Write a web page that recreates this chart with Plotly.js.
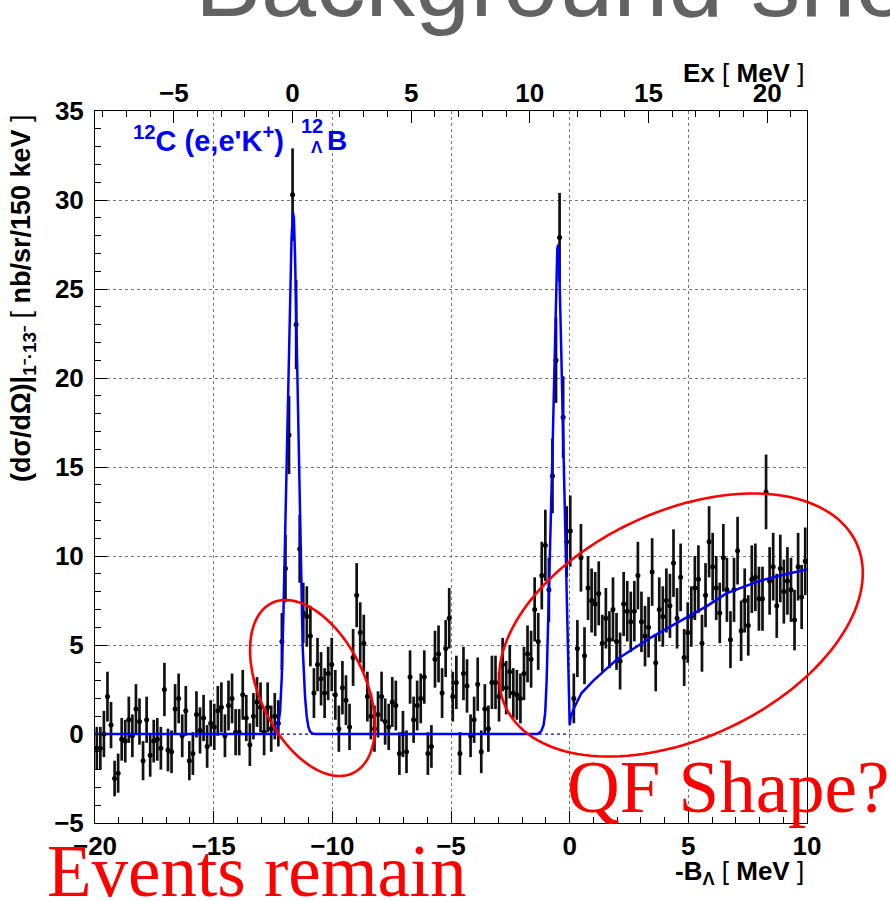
<!DOCTYPE html>
<html><head><meta charset="utf-8">
<script src="https://cdn.plot.ly/plotly-3.0.1.min.js"></script>
<style>html,body{margin:0;padding:0;background:#fff;}#chart{width:890px;height:901px;}</style>
</head><body><div id="chart"></div>
<script>
// ---- data ----
const binLow = -20;      // -B_Lambda of first bin edge [MeV]
const binWidth = 0.15;   // 150 keV bins
const counts = [
 -0.8,-0.8, 0.0, 2.1, 0.5,-2.5,-2.2,-0.3,-0.4, 0.8,
 -0.1, 1.4, 0.7,-1.5, 0.8,-1.2,-0.4,-0.3,-0.8, 2.5,
 -0.9,-1.0, 1.4, 2.0,-0.1, 1.3,-1.5,-1.1, 1.1, 0.2,
  0.9,-0.7, 0.6, 0.4, 1.3, 1.5,-0.1, 1.6, 2.0, 0.1,
  0.1, 2.2, 0.9,-0.6, 1.0, 1.8, 1.5, 0.1, 1.5, 0.3,
  1.0, 0.6, 5.2, 9.3,16.8,30.3,23.0,10.4, 6.8, 6.6,
  5.5, 2.3, 3.9, 3.1, 2.3, 3.4, 3.9, 2.2, 0.3, 2.6,
  1.9, 0.4, 4.3, 7.8, 5.7, 5.1, 2.1, 1.0, 0.3, 1.1,
  2.1, 0.7, 0.4, 1.8, 1.6,-1.1, 0.0,-1.0, 3.2, 0.8,
  1.6, 2.0, 3.2,-1.1,-0.7, 4.2, 4.5, 2.3, 4.8, 6.5,
  2.1, 2.9,-1.1, 3.4, 2.7,-0.1, 0.8, 2.8,-1.0, 1.4,
  0.3, 2.9, 2.9, 2.1, 3.9, 2.6, 3.5, 2.3, 2.2, 2.0,
  3.4, 4.5, 4.2, 7.0, 5.2, 8.9,10.6, 8.1,14.5,21.0,
 27.9,17.8,10.8,11.4, 2.0, 4.8, 9.9, 4.4, 8.2, 7.5,
  7.3, 7.9, 5.1, 6.5, 5.3, 7.0, 5.2, 4.1, 7.3, 6.9,
  6.3, 6.9, 8.9, 6.3, 5.5, 6.0, 9.1, 4.0, 7.0, 6.6,
  7.5, 7.2, 9.6, 6.5, 8.8, 4.3, 5.7, 6.6, 8.2, 8.7,
  5.1, 7.8,10.8, 9.4, 8.2, 6.8, 9.9, 8.1, 5.3, 8.1,
 10.3, 5.8, 7.5, 6.1, 8.7, 8.8, 7.6, 7.6,13.6, 8.6,
  9.4, 7.2, 9.3, 8.0, 8.6, 8.1, 6.4, 9.4, 7.7, 9.7
];
const errors = [
 1.2,1.2,1.3,1.4,1.3,1.0,1.1,1.2,1.2,1.3,
 1.2,1.4,1.3,1.1,1.3,1.2,1.2,1.2,1.2,1.5,
 1.2,1.2,1.4,1.4,1.2,1.4,1.1,1.2,1.3,1.3,
 1.3,1.2,1.3,1.3,1.4,1.4,1.2,1.4,1.4,1.3,
 1.3,1.4,1.3,1.2,1.3,1.4,1.4,1.3,1.4,1.3,
 1.3,1.3,1.6,1.9,2.2,2.6,2.5,1.9,1.7,1.7,
 1.7,1.4,1.5,1.5,1.4,1.5,1.5,1.4,1.3,1.5,
 1.4,1.3,1.6,1.8,1.7,1.6,1.4,1.3,1.3,1.3,
 1.4,1.3,1.3,1.4,1.4,1.2,1.3,1.2,1.5,1.3,
 1.4,1.4,1.5,1.2,1.2,1.6,1.6,1.4,1.6,1.7,
 1.4,1.5,1.2,1.5,1.5,1.2,1.3,1.5,1.2,1.4,
 1.3,1.5,1.5,1.4,1.5,1.5,1.5,1.4,1.4,1.4,
 1.5,1.6,1.6,1.8,1.6,1.9,2.0,1.8,2.1,2.4,
 2.5,2.3,2.0,2.0,1.4,1.6,1.9,1.6,1.8,1.8,
 1.8,1.8,1.6,1.7,1.6,1.8,1.6,1.6,1.8,1.7,
 1.7,1.7,1.9,1.7,1.7,1.7,1.9,1.6,1.8,1.7,
 1.8,1.8,1.9,1.7,1.9,1.6,1.7,1.7,1.8,1.9,
 1.6,1.8,2.0,1.9,1.8,1.7,1.9,1.8,1.6,1.8,
 1.9,1.7,1.8,1.7,1.9,1.9,1.8,1.8,2.1,1.9,
 1.9,1.8,1.9,1.8,1.9,1.8,1.7,1.9,1.8,1.9
];
// fitted curve
const fitX = [-20,-12.45,-12.34,-12.27,-12.2,-12.13,-12.06,-11.99,-11.92,-11.85,-11.78,-11.72,-11.66,-11.62,-11.57,-11.52,-11.47,-11.43,-11.39,-11.33,-11.25,-11.15,-11.08,-11.01,-10.94,-10.85,-10.7,
  -1.35,-1.2,-1.1,-1.03,-0.97,-0.91,-0.85,-0.79,-0.73,-0.66,-0.58,-0.52,-0.48,-0.44,-0.38,-0.32,-0.27,-0.21,-0.16,-0.11,-0.07,-0.03,0.0,
  0.05,0.2,0.5,1.0,1.5,2.0,2.7,3.4,4.2,5.0,5.8,6.6,7.3,8.0,9.0,10.0];
const fitY = [0,0,0.2,0.6,1.3,3.2,6.8,11,15.2,20,24.5,27.8,29.3,29.0,26.8,23.5,20,17,14.3,9.6,4.9,2.1,1.0,0.4,0.15,0.03,0,
  0,0.15,0.5,1.2,3.0,5.8,9.0,12.2,15.5,19.5,24.5,27.3,27.5,26.3,23,19.5,16.5,13.5,10.5,7.5,4.8,2.3,0.5,
  1.0,1.5,2.3,3.0,3.6,4.2,4.8,5.4,6.0,6.6,7.2,7.9,8.25,8.6,8.95,9.25];
const bgX = [-20, 0];
const bgY = [0, 0];
const exOffset = 11.68;   // Ex = -B_Lambda + 11.68 MeV
const xRange = [-20, 10];
const yRange = [-5, 35];

// ---- geometry ----
const W = 890, H = 901;
const M = {l: 95, r: 83, t: 111, b: 78};
const PW = W - M.l - M.r, PH = H - M.t - M.b;
const paperX = px => (px - M.l) / PW;
const paperY = py => (H - M.b - py) / PH;

// highlight ellipses (pixel centre, semi-axes, rotation)
const ellipses = [
  {cx: 312.5, cy: 688, a: 94.2, b: 52.6, rot: 64.5},
  {cx: 681, cy: 625, a: 193.6, b: 113.4, rot: -25.1}
];
function ellipsePath(e) {
  const th = e.rot * Math.PI / 180, n = 144;
  let p = '';
  for (let k = 0; k <= n; k++) {
    const t = 2 * Math.PI * k / n;
    const px = e.cx + e.a * Math.cos(th) * Math.cos(t) - e.b * Math.sin(th) * Math.sin(t);
    const py = e.cy + e.a * Math.sin(th) * Math.cos(t) + e.b * Math.cos(th) * Math.sin(t);
    p += (k === 0 ? 'M' : 'L') + paperX(px).toFixed(5) + ',' + paperY(py).toFixed(5);
  }
  return p + 'Z';
}

const binCenters = counts.map((_, i) => binLow + binWidth * (i + 0.5));

const tickFont = {family: 'Liberation Sans, Arial, sans-serif', size: 26, color: '#000', weight: 'bold'};

const traces = [
  {x: bgX, y: bgY, mode: 'lines', line: {color: '#0000ff', width: 1, dash: 'dot'}, hoverinfo: 'skip', showlegend: false},
  {x: binCenters, y: counts, mode: 'markers', type: 'scatter',
   marker: {color: '#000', size: 5},
   error_y: {type: 'data', array: errors, visible: true, color: '#111', thickness: 2.7, width: 0},
   showlegend: false},
  {x: fitX, y: fitY, mode: 'lines', line: {color: '#0000ff', width: 2.5}, showlegend: false},
  {x: [xRange[0] + exOffset, xRange[1] + exOffset], y: [null, null], xaxis: 'x2', mode: 'lines', showlegend: false, hoverinfo: 'skip'}
];

const annFont = (size, color, family) => ({family: family || 'Liberation Sans, Arial, sans-serif', size: size, color: color || '#000'});

const axisCommon = {
  tickmode: 'linear', tick0: 0, dtick: 5,
  ticks: 'inside', ticklen: 12, tickwidth: 1, tickcolor: '#000',
  minor: {ticks: 'inside', ticklen: 6, dtick: 1, tick0: 0, tickcolor: '#000', showgrid: false},
  zeroline: false, tickfont: tickFont
};

const blue = '#0000ff';
const layout = {
  width: W, height: H,
  margin: {l: M.l, r: M.r, t: M.t, b: M.b, pad: 0},
  paper_bgcolor: '#fff', plot_bgcolor: '#fff',
  showlegend: false,
  xaxis: Object.assign({}, axisCommon, {
    range: xRange,
    showgrid: true, gridcolor: '#777', griddash: 'dot', gridwidth: 1,
    showline: true, linecolor: '#000', linewidth: 1, mirror: true,
    ticklabelstandoff: 0
  }),
  xaxis2: Object.assign({}, axisCommon, {
    overlaying: 'x', side: 'top', anchor: 'y',
    range: [xRange[0] + exOffset, xRange[1] + exOffset],
    showgrid: false, showline: false, ticklabelstandoff: 3
  }),
  yaxis: Object.assign({}, axisCommon, {
    range: yRange,
    showgrid: true, gridcolor: '#777', griddash: 'dot', gridwidth: 1,
    showline: true, linecolor: '#000', linewidth: 1, mirror: true,
    ticklabelstandoff: 5
  }),
  shapes: ellipses.map(e => ({type: 'path', xref: 'paper', yref: 'paper', path: ellipsePath(e),
    line: {color: '#ff0000', width: 2.6}, fillcolor: 'rgba(0,0,0,0)', layer: 'above'})),
  annotations: [
    {xref: 'paper', yref: 'paper', x: paperX(193), y: paperY(39), xanchor: 'left', yanchor: 'bottom',
     text: 'Background sho', showarrow: false, font: annFont(99, '#626262')},
    {xref: 'paper', yref: 'paper', x: paperX(806), y: paperY(73), xanchor: 'right', yanchor: 'middle',
     text: '<b>Ex</b> [ <b>MeV</b> ]', showarrow: false, font: annFont(26)},
    {xref: 'paper', yref: 'paper', x: paperX(806), y: paperY(872), xanchor: 'right', yanchor: 'middle',
     text: '<b>-B<sub>Λ</sub></b> [ <b>MeV</b> ]', showarrow: false, font: annFont(26)},
    {xref: 'paper', yref: 'paper', x: paperX(23), y: paperY(112), xanchor: 'center', yanchor: 'top', textangle: -90,
     text: '<b>(dσ/dΩ)|</b><sub><b>1⁻·13⁻</b></sub> [ <b>nb/sr/150 keV</b> ]', showarrow: false, font: annFont(27)},
    // reaction label: 12C (e,e'K+) 12_Lambda B
    {xref: 'paper', yref: 'paper', x: paperX(131), y: paperY(139), xanchor: 'left', yanchor: 'middle',
     text: "<b><sup>12</sup>C (e,e'K<sup>+</sup>)</b>", showarrow: false, font: annFont(29, blue)},
    {xref: 'paper', yref: 'paper', x: paperX(325), y: paperY(126), xanchor: 'right', yanchor: 'middle',
     text: '<b>12</b>', showarrow: false, font: annFont(20, blue)},
    {xref: 'paper', yref: 'paper', x: paperX(325), y: paperY(147), xanchor: 'right', yanchor: 'middle',
     text: '<b>Λ</b>', showarrow: false, font: annFont(17, blue)},
    {xref: 'paper', yref: 'paper', x: paperX(325), y: paperY(140), xanchor: 'left', yanchor: 'middle',
     text: '<b>B</b>', showarrow: false, font: annFont(28, blue)},
    {xref: 'paper', yref: 'paper', x: paperX(565), y: paperY(787), xanchor: 'left', yanchor: 'middle',
     text: 'QF Shape?', showarrow: false, font: annFont(73, '#ff0000', 'Liberation Serif, Times New Roman, serif')},
    {xref: 'paper', yref: 'paper', x: paperX(45), y: paperY(871), xanchor: 'left', yanchor: 'middle',
     text: 'Events remain', showarrow: false, font: annFont(73, '#ff0000', 'Liberation Serif, Times New Roman, serif')}
  ]
};

Plotly.newPlot('chart', traces, layout, {displayModeBar: false, staticPlot: true});
</script>
</body></html>
